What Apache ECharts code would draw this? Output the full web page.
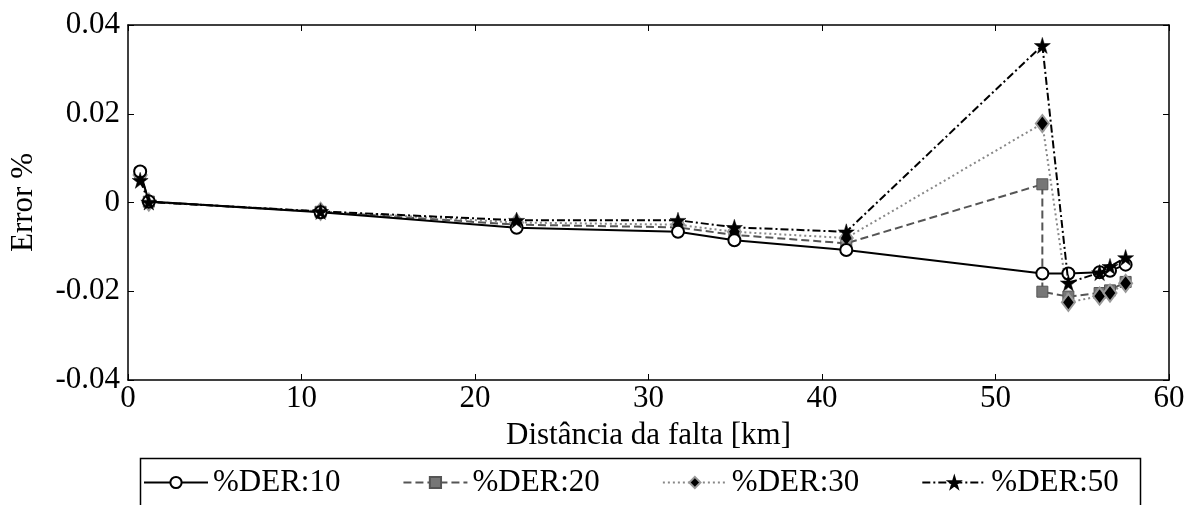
<!DOCTYPE html>
<html lang="pt">
<head>
    <meta charset="UTF-8">
    <title>Error % vs distância da falta</title>
    <script src="https://cdn.jsdelivr.net/npm/echarts@6/dist/echarts.min.js"></script>
    <style>
        body { margin: 0; background: #fff; }
        #chart { width: 1197px; height: 505px; }
    </style>
</head>
<body>
    <div id="chart"></div>
    <script>
        // distancias (km)
        var distKm = [0.7, 1.2, 11.1, 22.4, 31.7, 34.95, 41.4, 52.7, 54.2, 56.0, 56.6, 57.5];
        // DER:20 tem dois pontos em 52.7
        var distKm20 = [0.7, 1.2, 11.1, 22.4, 31.7, 34.95, 41.4, 52.7, 52.7, 54.2, 56.0, 56.6, 57.5];

        var der10 = [0.0070, 0.0002, -0.0022, -0.0057, -0.0066, -0.0085, -0.0107, -0.0160, -0.0160, -0.0157, -0.0154, -0.0140];
        var der20 = [0.0067, 0.0002, -0.0021, -0.0050, -0.0056, -0.0073, -0.0092, 0.0041, -0.0201, -0.0212, -0.0204, -0.0198, -0.0179];
        var der30 = [0.0062, 0.0001, -0.0020, -0.0045, -0.0050, -0.0066, -0.0080, 0.0178, -0.0225, -0.0211, -0.0204, -0.0182];
        var der50 = [0.0050, 0.0001, -0.0020, -0.0040, -0.0040, -0.0056, -0.0066, 0.0354, -0.0181, -0.0158, -0.0144, -0.0124];

        var xTicks = [0, 60, 10];      // min, max, interval
        var yTicks = [-0.04, 0.04, 0.02];

        function pairs(xs, ys) {
            var out = [];
            for (var i = 0; i < ys.length; i++) out.push([xs[i], ys[i]]);
            return out;
        }

        var font = 'Liberation Serif';
        var fs = 31;
        var star = 'path://M50,0 L61,35 L98,35 L68,57 L79,91 L50,70 L21,91 L32,57 L2,35 L39,35 Z';

        var chart = echarts.init(document.getElementById('chart'));
        var frame = { show: true, onZero: false, lineStyle: { color: '#000', width: 1.5 } };
        var ticks = { inside: true, length: 6, lineStyle: { color: '#000' } };
        var option = {
            animation: false,
            backgroundColor: '#fff',
            textStyle: { fontFamily: font },
            grid: { left: 126, right: 28, top: 25, bottom: 125 },
            xAxis: [{
                type: 'value',
                min: xTicks[0], max: xTicks[1], interval: xTicks[2],
                name: 'Distância da falta [km]',
                nameLocation: 'middle',
                nameGap: 40,
                nameTextStyle: { fontFamily: font, fontSize: fs, color: '#000' },
                axisLine: frame,
                axisTick: ticks,
                axisLabel: { fontFamily: font, fontSize: fs, color: '#000', margin: 3 },
                splitLine: { show: false }
            }, {
                type: 'value', position: 'top',
                min: xTicks[0], max: xTicks[1], interval: xTicks[2],
                axisLine: frame,
                axisTick: ticks,
                axisLabel: { show: false },
                splitLine: { show: false }
            }],
            yAxis: [{
                type: 'value',
                min: yTicks[0], max: yTicks[1], interval: yTicks[2],
                name: 'Error %',
                nameLocation: 'middle',
                nameGap: 89,
                nameTextStyle: { fontFamily: font, fontSize: fs, color: '#000' },
                axisLine: frame,
                axisTick: ticks,
                axisLabel: { fontFamily: font, fontSize: fs, color: '#000', margin: 8 },
                splitLine: { show: false }
            }, {
                type: 'value', position: 'right',
                min: yTicks[0], max: yTicks[1], interval: yTicks[2],
                axisLine: frame,
                axisTick: ticks,
                axisLabel: { show: false },
                splitLine: { show: false }
            }],
            legend: {
                left: 143, top: 467, padding: 0,
                itemWidth: 64, itemHeight: 14, itemGap: 62,
                textStyle: { fontFamily: font, fontSize: fs, color: '#000' },
                data: ['%DER:10', '%DER:20', '%DER:30', '%DER:50']
            },
            graphic: [{
                type: 'rect',
                shape: { x: 140.5, y: 458.5, width: 1000, height: 60 },
                style: { fill: 'none', stroke: '#000', lineWidth: 1.5 }
            }],
            series: [{
                name: '%DER:10', type: 'line',
                data: pairs(distKm, der10),
                symbol: 'circle', symbolSize: 12,
                lineStyle: { color: '#000', width: 2, type: 'solid' },
                itemStyle: { color: '#fff', borderColor: '#000', borderWidth: 2 },
                z: 5
            }, {
                name: '%DER:20', type: 'line',
                data: pairs(distKm20, der20),
                symbol: 'rect', symbolSize: 11,
                lineStyle: { color: '#555', width: 2, type: [8, 4] },
                itemStyle: { color: '#777', borderColor: '#555', borderWidth: 1 },
                z: 3
            }, {
                name: '%DER:30', type: 'line',
                data: pairs(distKm, der30),
                symbol: 'diamond', symbolSize: [13, 17],
                lineStyle: { color: '#888', width: 2, type: [2, 3] },
                itemStyle: { color: '#000', borderColor: '#999', borderWidth: 2 },
                z: 4
            }, {
                name: '%DER:50', type: 'line',
                data: pairs(distKm, der50),
                symbol: star, symbolSize: 16,
                lineStyle: { color: '#000', width: 2, type: [8, 3, 2, 3] },
                itemStyle: { color: '#000', borderColor: '#000', borderWidth: 0.5 },
                z: 6
            }]
        };
        chart.setOption(option);
    </script>
</body>
</html>
